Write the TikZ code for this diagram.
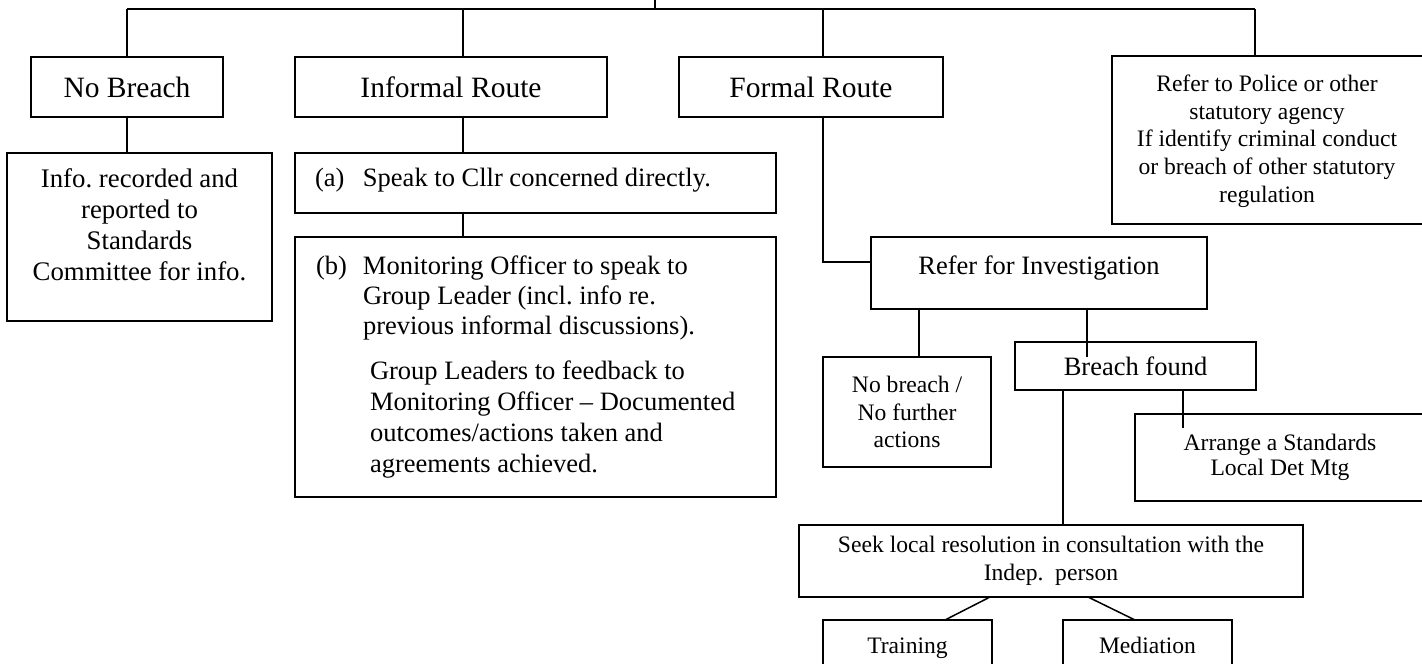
\documentclass[tikz,border=0pt]{standalone}
\usepackage{fontspec}
\setmainfont{Liberation Serif}
\frenchspacing
\begin{document}
\frenchspacing
\begin{tikzpicture}[x=1pt,y=-1pt,line width=1.5pt]
\tikzset{
  box/.style={draw, inner sep=0pt, outer sep=0pt, anchor=north west, align=center},
  txt/.style={inner sep=0pt, outer sep=0pt, align=center},
  ft/.style={font=\fontsize{29.5}{34}\selectfont},
  fb/.style={font=\fontsize{26.8}{31.2}\selectfont},
  fm/.style={font=\fontsize{26.5}{30}\selectfont},
  fs/.style={font=\fontsize{23.6}{27.8}\selectfont},
  fa/.style={font=\fontsize{23.6}{25}\selectfont}
}
\useasboundingbox (0,0) rectangle (1422,664);
\clip (0,0) rectangle (1422,664);

% boxes
\node[box,ft,minimum width=192pt,minimum height=60pt] (nobreach) at (31,57) {No Breach};
\node[box,ft,minimum width=312pt,minimum height=60pt] (informal) at (295,57) {Informal Route};
\node[box,ft,minimum width=264pt,minimum height=60pt] (formal) at (679,57) {Formal Route};
\node[box,minimum width=320pt,minimum height=168pt] (police) at (1112,56) {};
\node[box,minimum width=265pt,minimum height=168pt] (info) at (7,153) {};
\node[box,minimum width=481pt,minimum height=60pt] (boxa) at (295,153) {};
\node[box,minimum width=481pt,minimum height=260pt] (boxb) at (295,237) {};
\node[box,minimum width=336pt,minimum height=72pt] (refer) at (871,237) {};
\node[box,fs,minimum width=168pt,minimum height=110pt] (nobr) at (823,357) {No breach /\\No further\\actions};
\node[box,fm,minimum width=241pt,minimum height=48pt] (breach) at (1015,342) {Breach found};
\node[box,minimum width=297pt,minimum height=87pt] (arrange) at (1135,414) {};
\node[box,fs,minimum width=504pt,minimum height=72pt] (seek) at (799,525) {Seek local resolution in consultation with the\\Indep.\ \ person};
\node[box,fs,minimum width=169pt,minimum height=56pt,text height=16pt,text depth=5pt] (training) at (823,620) {Training};
\node[box,fs,minimum width=169pt,minimum height=56pt,text height=16pt,text depth=5pt] (mediation) at (1063,620) {Mediation};

% texts placed inside boxes
\node[txt,fs,anchor=north] (policet) at (1267,74.6) {Refer to Police or other\\statutory agency\\If identify criminal conduct\\or breach of other statutory\\regulation};
\node[txt,fb,anchor=north] (infot) at (139.5,168.3) {Info. recorded and\\reported to\\Standards\\Committee for info.};
\node[txt,fm,anchor=north west] (boxat) at (315,168.6) {\makebox[48pt][l]{(a)}Speak to Cllr concerned directly.};
\node[txt,anchor=north west,align=left,font=\fontsize{26.5}{30}\selectfont] (boxbt) at (316,255.5) {\makebox[47pt][l]{(b)}Monitoring Officer to speak to\\\hspace*{47pt}Group Leader (incl. info re.\\\hspace*{47pt}previous informal discussions).};
\node[txt,anchor=north west,align=left,font=\fontsize{26.5}{31}\selectfont] (boxbt2) at (370,360.5) {Group Leaders to feedback to\\Monitoring Officer -- Documented\\outcomes/actions taken and\\agreements achieved.};
\node[txt,fm,anchor=north] (refert) at (1039,255.5) {Refer for Investigation};
\node[txt,fa,anchor=north] (arranget) at (1280,434.5) {Arrange a Standards\\Local Det Mtg};

% connectors
\coordinate (top) at (655,0);
\coordinate (bus) at (655,9);
\coordinate (busL) at (127,9);
\coordinate (busR) at (1255,9);
\coordinate (xi) at (463,9);
\coordinate (xf) at (823,9);
\draw (top) -- (bus);
\draw (busL) -- (busR);
\draw (busL) -- (busL |- nobreach.north);
\draw (xi) -- (xi |- informal.north);
\draw (xf) -- (xf |- formal.north);
\draw (busR) -- (busR |- police.north);
\draw (nobreach.south) -- (nobreach.south |- info.north);
\draw (xi |- informal.south) -- (xi |- boxa.north);
\draw (xi |- boxa.south) -- (xi |- boxb.north);
\coordinate (fy) at (823,262);
\draw (xf |- formal.south) -- (fy) -- (fy -| refer.west);
\coordinate (xn) at (919,0);
\coordinate (xb) at (1087,0);
\coordinate (xs) at (1063,0);
\coordinate (xa) at (1183,0);
\draw (xn |- refer.south) -- (xn |- nobr.north);
\draw (xb |- refer.south) -- (xb |- nobr.north);
\draw (xs |- breach.south) -- (xs |- seek.north);
\draw (xa |- breach.south) -- ++(0,38);
\coordinate (d1a) at (990,0);
\coordinate (d1b) at (945,0);
\coordinate (d2a) at (1088,0);
\coordinate (d2b) at (1135,0);
\draw (d1a |- seek.south) -- (d1b |- training.north);
\draw (d2a |- seek.south) -- (d2b |- mediation.north);
\end{tikzpicture}
\end{document}
